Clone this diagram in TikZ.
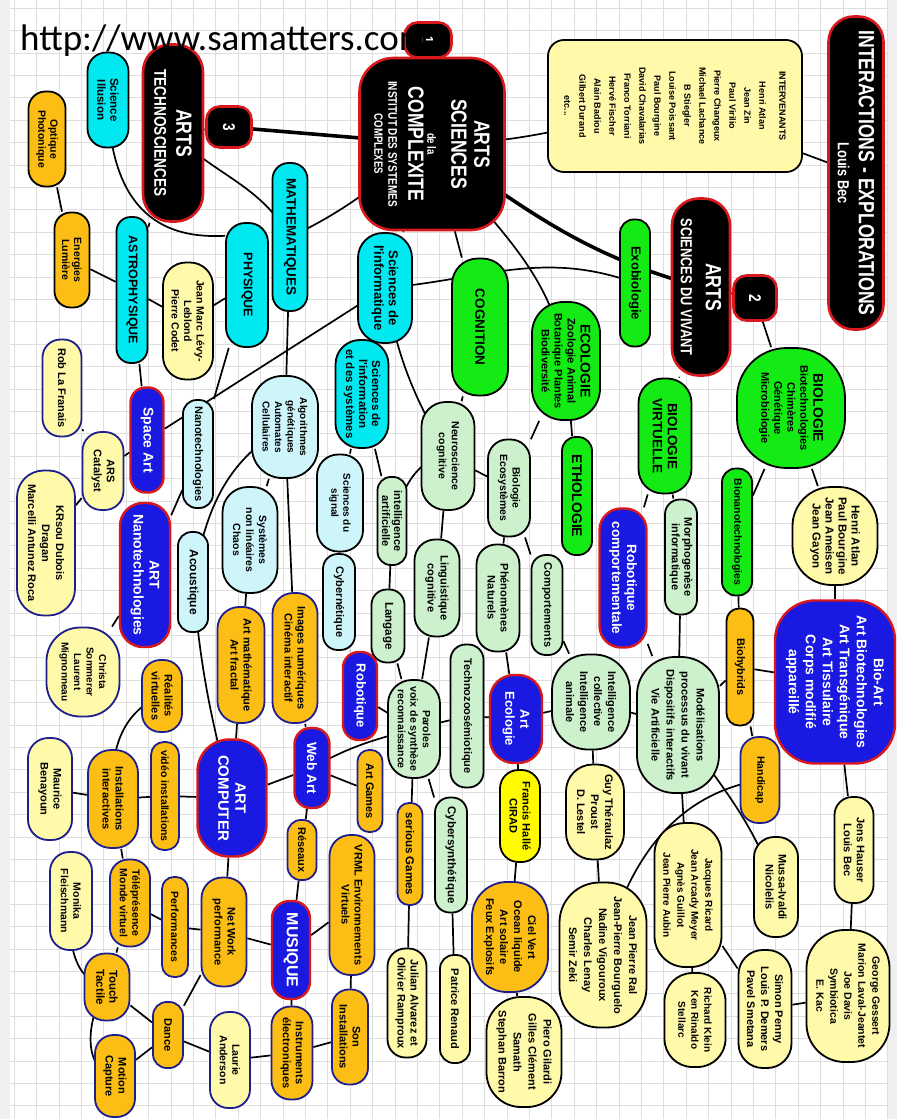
\documentclass[tikz,border=0pt]{standalone}
\usepackage{fontspec}
\setmainfont{Liberation Sans}
\newfontfamily\nfont{Liberation Sans}
\newfontfamily\cfont[FakeStretch=0.8]{Liberation Sans}
\newfontfamily\urlfont{Carlito}
\newcommand\fz[2]{\fontsize{#1}{#2}\selectfont}

\definecolor{hubred}{RGB}{215,25,30}
\definecolor{artblue}{RGB}{25,25,225}
\definecolor{cyanN}{RGB}{0,232,240}
\definecolor{lcyan}{RGB}{205,245,250}
\definecolor{greenN}{RGB}{20,235,20}
\definecolor{lgreen}{RGB}{205,240,205}
\definecolor{pyellow}{RGB}{255,250,170}
\definecolor{orangeN}{RGB}{252,190,20}
\definecolor{navy}{RGB}{30,30,140}
\definecolor{yellowN}{RGB}{255,250,0}
\definecolor{gridgray}{RGB}{222,222,222}

\pgfdeclarelayer{grille}
\pgfdeclarelayer{liens}
\pgfsetlayers{grille,liens,main}

\tikzset{
  bub/.style={draw, line width=1.8pt, rotate=-90, align=center, inner sep=1pt, text=black, font=\nfont\bfseries\fz{11}{13}},
  sz/.style 2 args={minimum height=#1pt, minimum width=#2pt},
  pl/.style 2 args={minimum height=#1pt, minimum width=#2pt, rounded corners={0.46*#1pt}},
  fs/.style 2 args={font=\nfont\bfseries\fz{#1}{#2}},
  cfs/.style 2 args={font=\cfont\bfseries\fz{#1}{#2}},
  hub/.style={bub, fill=black, draw=hubred, line width=2.6pt, text=white},
  blu/.style={bub, fill=artblue, draw=hubred, line width=2.4pt, text=white},
  cy/.style={bub, fill=cyanN},
  lcy/.style={bub, fill=lcyan},
  gr/.style={bub, fill=greenN},
  lgr/.style={bub, fill=lgreen},
  pyl/.style={bub, fill=pyellow},
  pylb/.style={bub, fill=pyellow, draw=navy},
  org/.style={bub, fill=orangeN},
  orgb/.style={bub, fill=orangeN, draw=navy},
  yel/.style={bub, fill=yellowN},
  lien/.style={line width=1.7pt, black},
  thk/.style={line width=3.6pt, black},
  quadri/.style={gridgray, line width=0.6pt}
}

\begin{document}
\begin{tikzpicture}[x=1pt, y=1pt]
\useasboundingbox (0,0) rectangle (897,-1119);

% tronc central
\node[hub, sz={145}{172}, rounded corners=34pt, cfs={22}{23}] (cpx) at (432,-144) {ARTS\\SCIENCES\\[1pt]{\fz{12}{12}de la}\\[-4pt]COMPLEXITE\\[-3pt]{\fz{12.5}{13}INSTITUT DES SYSTEMES}\\[-9pt]{\fz{12}{13}COMPLEXES}};
\node[hub, sz={47}{35}, rounded corners=13pt, cfs={15}{16}] (one) at (428,-40) {1};
\node[hub, sz={45}{41}, rounded corners=13pt, cfs={17}{18}] (three) at (229,-127) {3};
\node[hub, sz={43}{45}, rounded corners=13pt, cfs={17}{18}] (two) at (755,-298) {2};
\node[hub, pl={60}{177}, cfs={17}{22}] (techno) at (173,-133) {{\fz{22}{22}ARTS}\\TECHNOSCIENCES};
\node[hub, pl={58}{177}, cfs={16}{25}] (vivant) at (701,-287) {{\fz{22}{22}ARTS}\\SCIENCES DU VIVANT};
\node[hub, pl={55}{313}, cfs={22}{21}] (interact) at (856,-173) {INTERACTIONS - EXPLORATIONS\\{\fz{16}{16}Louis Bec}};
\node[pyl, sz={254}{132}, rounded corners=16pt, fs={9}{15}] (interv) at (675,-106) {INTERVENANTS\\[5pt]Henri Atlan\\Jean Zin\\Paul Virilio\\Pierre Changeux\\Michael Lachance\\B Stiegler\\Louise Poissant\\Paul Bourgine\\David Chavalarias\\Franco Torriani\\Hervé Fischer\\Alain Badiou\\Gilbert Durand\\etc...};

% technosciences
\node[cy, pl={41}{95}, fs={11.5}{13}] (sill) at (108,-100) {Science\\Illusion};
\node[org, pl={37}{95}, fs={10.5}{12}] (optique) at (47,-139) {Optique\\Photonique};
\node[org, pl={35}{95}, fs={10.5}{12}] (energ) at (72,-260) {Energies\\Lumière};
\node[cy, pl={31}{146}, fs={12.5}{14}] (astro) at (132,-290) {ASTROPHYSIQUE};
\node[cy, pl={42}{124}, fs={12.5}{14}] (phys) at (247,-285) {PHYSIQUE};
\node[cy, pl={35}{148}, fs={13.5}{15}] (math) at (290,-237) {MATHEMATIQUES};
\node[pyl, pl={50}{117}, fs={10.5}{12.5}] (levy) at (188,-321) {Jean Marc Lévy-\\Leblond\\Pierre Codet};
\node[pylb, pl={39}{97}, fs={11}{13}] (rob) at (62,-388) {Rob La Franais};
\node[blu, pl={33}{105}, fs={14}{16}] (space) at (147,-440) {Space Art};
\node[pylb, pl={41}{78}, fs={11}{13}] (ars) at (103,-471) {ARS\\Catalyst};
\node[lcy, pl={30}{108}, fs={11}{13}] (nano) at (198,-454) {Nanotechnologies};
\node[lcy, pl={66}{102}, fs={10}{12.5}] (algo) at (285,-427) {Algorithmes\\génétiques\\Automates\\Cellulaires};
\node[lcy, pl={55}{106}, fs={10.5}{13}] (syst) at (250,-540) {Systèmes\\non linéaires\\Chaos};
\node[lcy, pl={30}{100}, fs={12}{13}] (acoust) at (193,-582) {Acoustique};
\node[blu, pl={50}{144}, fs={14}{16}] (artnano) at (145,-575) {ART\\Nanotechnologies};
\node[pylb, pl={58}{145}, fs={11}{14}] (krsou) at (46,-543) {KRsou Dubois\\Dragan\\Marcelli Antunez Roca};
\node[pylb, pl={73}{89}, fs={10}{12.5}] (christa) at (83,-672) {Christa\\Sommerer\\Laurent\\Mignonneau};
\node[orgb, pl={40}{72}, fs={11}{13}] (realite) at (162,-696) {Réalités\\virtuelles};
\node[orgb, pl={47}{116}, fs={11}{13}] (artmath) at (241,-665) {Art mathématique\\Art fractal};
\node[orgb, pl={45}{130}, fs={11}{13}] (images) at (295,-658) {Images numériques\\Cinéma interactif};
\node[blu, pl={69}{117}, fs={15}{17}] (artcomp) at (232,-798) {ART\\COMPUTER};
\node[pylb, pl={44}{102}, fs={11}{13}] (maurice) at (50,-789) {Maurice\\Benayoun};
\node[orgb, pl={50}{98}, fs={11}{13}] (install) at (113,-799) {Installations\\interactives};
\node[orgb, pl={28}{108}, fs={10.5}{12}] (video) at (165,-796) {vidéo installations};

% musique
\node[pylb, pl={42}{98}, fs={10.5}{12.5}] (monika) at (71,-901) {Monika\\Fleischmann};
\node[orgb, pl={40}{87}, fs={10.5}{12.5}] (telep) at (130,-903) {Téléprésence\\Monde virtuel};
\node[orgb, pl={26}{100}, fs={10.5}{12}] (perf) at (175,-927) {Performances};
\node[orgb, pl={45}{109}, fs={11}{13}] (net) at (224,-932) {Net Work\\performance};
\node[blu, pl={38}{98}, fs={16}{18}] (musique) at (291,-950) {MUSIQUE};
\node[orgb, pl={45}{67}, fs={11.5}{13}] (touch) at (107,-987) {Touch\\Tactile};
\node[orgb, pl={30}{66}, fs={11}{13}] (dance) at (168,-1035) {Dance};
\node[orgb, pl={40}{82}, fs={11}{13}] (motion) at (115,-1076) {Motion\\Capture};
\node[pylb, pl={40}{96}, fs={10.5}{12.5}] (laurie) at (230,-1060) {Laurie\\Anderson};
\node[orgb, pl={41}{93}, fs={11}{13}] (instr) at (292,-1053) {Instruments\\électroniques};
\node[orgb, pl={45}{140}, fs={11}{13}] (vrml) at (352,-905) {VRML Environnements\\Virtuels};
\node[orgb, pl={36}{95}, fs={11}{13}] (son) at (350,-1037) {Son\\Installations};
\node[orgb, pl={25}{102}, fs={11.5}{13}] (serious) at (410,-854) {serious Games};
\node[pyl, pl={39}{109}, fs={11}{13}] (julian) at (407,-1003) {Julian Alvarez et\\Olivier Ramproux};
\node[lgr, pl={32}{115}, fs={11.5}{13}] (cybersyn) at (451,-855) {Cybersynthétique};
\node[pyl, pl={30}{108}, fs={11}{13}] (patrice) at (455,-1009) {Patrice Renaud};
\node[orgb, pl={76}{110}, fs={11}{14}] (ciel) at (510,-937) {Ciel Vert\\Ocean liquide\\Art solaire\\Feux Explosifs};
\node[pyl, pl={75}{110}, fs={11}{15}] (piero) at (524,-1052) {Piero Gilardi\\Gilles Clément\\Samath\\Stephan Barron};
\node[yel, pl={40}{92}, fs={11}{13}] (halle) at (520,-816) {Francis Hallé\\CIRAD};
\node[pyl, pl={87}{145}, fs={11}{15}] (ral) at (603,-955) {Jean Pierre Ral\\Jean-Pierre Bourguelo\\Nadine Vigouroux\\Charles Lenay\\Semir Zeki};
\node[pyl, pl={58}{95}, fs={11}{14}] (guy) at (595,-812) {Guy Théraulaz\\Proust\\D. Lestel};
\node[pyl, pl={67}{144}, fs={10}{14}] (jacques) at (688,-895) {Jacques Ricard\\Jean Arcady Meyer\\Agnès Guillot\\Jean Pierre Aubin};
\node[pyl, pl={61}{94}, fs={10}{13}] (richard) at (695,-1020) {Richard Klein\\Ken Rinaldo\\Stellarc};
\node[pyl, pl={44}{100}, fs={11}{13}] (mussa) at (776,-887) {Mussa-Ivaldi\\Nicolelis};
\node[pyl, pl={53}{118}, fs={11}{14}] (simon) at (765,-1009) {Simon Penny\\Louis P. Demers\\Pavel Smetana};
\node[pyl, pl={83}{132}, fs={10.5}{14}] (george) at (848,-996) {George Gessert\\Marion Laval-Jeantet\\Joe Davis\\Symbiotica\\E. Kac};
\node[pyl, pl={39}{106}, fs={11}{13}] (jens) at (854,-850) {Jens Hauser\\Louis Bec};

% sciences du vivant
\node[blu, pl={120}{163}, rounded corners=40pt, fs={14}{17}] (bioart) at (835,-682) {Bio-Art\\Art Biotechnologies\\Art Transgénique\\Art Tissulaire\\Corps modifié\\appareillé};
\node[orgb, pl={39}{86}, fs={10.5}{12}] (handicap) at (760,-780) {Handicap};
\node[org, pl={27}{117}, fs={11}{12}] (biohyb) at (740,-667) {Biohybrids};
\node[gr, pl={30}{127}, fs={10.5}{12}] (biotech) at (737,-532) {Bionanotechnologies};
\node[lgr, pl={82}{136}, fs={11}{15}] (model) at (678,-725) {Modélisations\\processus du vivant\\Dispositifs interactifs\\Vie Artificielle};
\node[lgr, pl={32}{115}, fs={11}{12.5}] (morpho) at (681,-557) {Morphogenèse\\informatique};
\node[blu, pl={47}{139}, fs={13.5}{15}] (robcomp) at (623,-578) {Robotique\\comportementale};
\node[lgr, pl={78}{95}, fs={11}{14}] (intel) at (591,-702) {Intelligence\\collective\\Intelligence\\animale};
\node[gr, pl={108}{120}, fs={11}{13}] (biologie) at (791,-408) {{\fz{14}{14}BIOLOGIE}\\Biotechnologies\\Chimères\\Génétique\\Microbiologie};
\node[pyl, pl={85}{98}, fs={11.5}{13}] (atlan) at (835,-536) {Henri Atlan\\Paul Bourgine\\Jean Ameisen\\Jean Gayon};
\node[gr, pl={53}{115}, fs={13.5}{15}] (biovirt) at (665,-436) {BIOLOGIE\\VIRTUELLE};
\node[gr, pl={30}{127}, fs={13}{14}] (exobio) at (635,-283) {Exobiologie};
\node[gr, pl={68}{118}, fs={11}{13}] (ecolo) at (566,-361) {{\fz{14}{14}ECOLOGIE}\\Zoologie Animal\\Botanique Plantes\\Biodiversité};
\node[gr, pl={30}{118}, fs={14}{15}] (etho) at (577,-496) {ETHOLOGIE};
\node[gr, pl={56}{137}, fs={13.5}{15}] (cogn) at (480,-327) {COGNITION};

% informatique et cognition
\node[cy, pl={54}{110}, fs={13}{14.5}] (scinf) at (385,-288) {Sciences de\\l'informatique};
\node[cy, pl={53}{108}, fs={11.5}{13}] (sinfo) at (362,-394) {Sciences de\\l'information\\et des systèmes};
\node[lcy, pl={46}{97}, fs={10}{12}] (signal) at (340,-503) {Sciences du\\signal};
\node[lgr, pl={29}{88}, fs={11}{12}] (ia) at (392,-521) {intelligence\\artificielle};
\node[lgr, pl={53}{108}, fs={10.5}{13}] (neuro) at (448,-456) {Neuroscience\\cognitive};
\node[lgr, pl={42}{97}, fs={10.5}{12.5}] (bioeco) at (509,-488) {Biologie\\Ecosystèmes};
\node[lcy, pl={32}{96}, fs={11}{12}] (cyber) at (339,-602) {Cybernétique};
\node[lgr, pl={33}{73}, fs={11.5}{13}] (langage) at (388,-626) {Langage};
\node[lgr, pl={45}{97}, fs={11}{13}] (ling) at (437,-588) {Linguistique\\cognitive};
\node[lgr, pl={43}{107}, fs={11}{13}] (phenom) at (498,-598) {Phénomènes\\Naturels};
\node[lgr, pl={31}{100}, fs={11}{12}] (comport) at (547,-605) {Comportements};
\node[blu, pl={34}{88}, fs={13}{14}] (robotique) at (360,-696) {Robotique};
\node[lgr, pl={52}{98}, fs={10.5}{12.5}] (paroles) at (414,-729) {Paroles\\voix de synthèse\\reconnaissance};
\node[lgr, pl={33}{143}, fs={11}{12}] (techzoo) at (467,-716) {Technozoosémiotique};
\node[blu, pl={52}{88}, fs={13}{15}] (artecol) at (516,-719) {Art\\Ecologie};
\node[blu, pl={35}{80}, fs={13.5}{15}] (webart) at (312,-768) {Web Art};
\node[orgb, pl={25}{82}, fs={11}{12}] (artgames) at (370,-791) {Art Games};
\node[orgb, pl={29}{60}, fs={11}{12}] (reseaux) at (302,-850) {Réseaux};

% fond quadrille
\begin{pgfonlayer}{grille}
  \fill[black!6] (0,0) rectangle (10,-1119);
  \fill[black!6] (888,0) rectangle (897,-1119);
  \foreach \gx in {14,36.4,...,890} \draw[quadri] (\gx,0) -- (\gx,-1119);
  \foreach \gy in {-8,-30.4,...,-1119} \draw[quadri] (10,\gy) -- (888,\gy);
\end{pgfonlayer}

% liens (derriere les bulles)
\begin{pgfonlayer}{liens}
  \draw[thk] (three) -- (cpx);
  \draw[lien] (techno) -- (three);
  \draw[lien] (cpx.center) to[out=0,in=190] (interv.center);
  \draw[lien] (interv) -- (interact);
  \draw[thk] (cpx.center) to[out=-35,in=165] (vivant.center);
  \draw[lien] (scinf.center) to[out=5,in=160] (exobio.center);
  \draw[lien] (cpx.center) to[out=-55,in=100] (ecolo.center);
  \draw[lien] (cpx) -- (cogn);
  \draw[lien] (cpx) -- (scinf);
  \draw[lien] (cpx.center) to[out=215,in=25] (math.center);
  \draw[lien] (vivant) -- (two);
  \draw[lien] (two) -- (biologie);
  % technosciences
  \draw[lien] (sill.center) .. controls (110,-228) and (180,-238) .. (phys.204);
  \draw[lien] (techno.center) to[out=-45,in=120] (math.center);
  \draw[lien] (techno) -- (astro);
  \draw[lien] (optique) -- (energ);
  \draw[lien] (energ) -- (astro);
  \draw[lien] (astro) -- (space);
  \draw[lien] (astro) -- (levy);
  \draw[lien] (levy) -- (phys);
  \draw[lien] (phys) -- (nano);
  \draw[lien] (space) -- (scinf);
  \draw[lien] (math) -- (algo);
  \draw[lien] (space) -- (ars);
  \draw[lien] (rob) -- (ars);
  \draw[lien] (ars) -- (krsou);
  \draw[lien] (nano) -- (artnano);
  \draw[lien] (algo.center) to[out=210,in=80] (acoust.center);
  \draw[lien] (algo) -- (syst);
  \draw[lien] (algo) -- (images);
  \draw[lien] (syst) -- (artmath);
  \draw[lien] (acoust.center) to[out=-85,in=105] (artcomp.center);
  \draw[lien] (artmath) -- (artcomp);
  \draw[lien] (images) -- (webart);
  \draw[lien] (artnano) -- (christa);
  \draw[lien] (realite.center) to[out=200,in=95] (install.center);
  \draw[lien] (maurice) -- (install);
  \draw[lien] (install) -- (video);
  \draw[lien] (video) -- (artcomp);
  \draw[lien] (artcomp) -- (webart);
  \draw[lien] (webart.center) to[out=30,in=195] (paroles.center);
  \draw[lien] (webart) -- (artgames);
  \draw[lien] (webart) -- (reseaux);
  \draw[lien] (reseaux) -- (musique);
  % informatique et cognition
  \draw[lien] (scinf) -- (sinfo);
  \draw[lien] (scinf.center) to[out=-80,in=120] (neuro.center);
  \draw[lien] (cogn) -- (neuro);
  \draw[lien] (sinfo) -- (signal);
  \draw[lien] (sinfo) -- (ia);
  \draw[lien] (ia.center) to[out=70,in=185] (neuro.center);
  \draw[lien] (neuro) -- (bioeco);
  \draw[lien] (neuro) -- (ling);
  \draw[lien] (ia) -- (langage);
  \draw[lien] (signal) -- (cyber);
  \draw[lien] (cyber) -- (robotique);
  \draw[lien] (bioeco) -- (phenom);
  \draw[lien] (bioeco) -- (comport);
  \draw[lien] (ecolo) -- (etho);
  \draw[lien] (ecolo) -- (bioeco);
  \draw[lien] (robotique) -- (paroles);
  \draw[lien] (langage) -- (paroles);
  \draw[lien] (ling) -- (paroles);
  \draw[lien] (paroles) -- (techzoo);
  \draw[lien] (techzoo) -- (artecol);
  \draw[lien] (artecol) -- (intel);
  \draw[lien] (phenom) -- (artecol);
  \draw[lien] (comport) -- (intel);
  \draw[lien] (paroles) -- (serious);
  \draw[lien] (paroles) -- (cybersyn);
  \draw[lien] (artecol) -- (halle);
  \draw[lien] (halle) -- (ciel);
  \draw[lien] (ciel) -- (piero);
  \draw[lien] (serious) -- (julian);
  \draw[lien] (cybersyn) -- (patrice);
  % sciences du vivant
  \draw[lien] (vivant) -- (biovirt);
  \draw[lien] (biovirt) -- (robcomp);
  \draw[lien] (biovirt) -- (morpho);
  \draw[lien] (intel) -- (guy);
  \draw[lien] (intel) -- (model);
  \draw[lien] (robcomp) -- (model);
  \draw[lien] (morpho) -- (model);
  \draw[lien] (model) -- (biohyb);
  \draw[lien] (biohyb) -- (bioart);
  \draw[lien] (biotech) -- (biohyb);
  \draw[lien] (biohyb) -- (handicap);
  \draw[lien] (handicap.center) to[out=190,in=75] (ral.center);
  \draw[lien] (guy) -- (ral);
  \draw[lien] (model) -- (jacques);
  \draw[lien] (model.center) to[out=-55,in=110] (mussa.center);
  \draw[lien] (jacques) -- (richard);
  \draw[lien] (jacques) -- (simon);
  \draw[lien] (simon) -- (george);
  \draw[lien] (jens) -- (george);
  \draw[lien] (bioart) -- (jens);
  \draw[lien] (bioart) -- (atlan);
  \draw[lien] (biologie) -- (atlan);
  \draw[lien] (biologie) -- (biotech);
  % musique
  \draw[lien] (install) -- (telep);
  \draw[lien] (telep) -- (perf);
  \draw[lien] (perf) -- (net);
  \draw[lien] (net) -- (artcomp);
  \draw[lien] (net) -- (musique);
  \draw[lien] (net) -- (dance);
  \draw[lien] (telep) -- (touch);
  \draw[lien] (monika.center) to[out=-95,in=170] (touch.center);
  \draw[lien] (touch) -- (dance);
  \draw[lien] (touch.center) to[out=-125,in=170] (motion.center);
  \draw[lien] (dance) -- (motion);
  \draw[lien] (dance) -- (laurie);
  \draw[lien] (laurie) -- (instr);
  \draw[lien] (musique) -- (vrml);
  \draw[lien] (vrml) -- (son);
  \draw[lien] (son) -- (instr);
  \draw[lien] (musique) -- (instr);
\end{pgfonlayer}

% adresse en haut
\node[anchor=base west, inner sep=0pt, font=\urlfont\fz{37}{40}] (url) at (20,-50) {http://www.samatters.com/};
\end{tikzpicture}
\end{document}
